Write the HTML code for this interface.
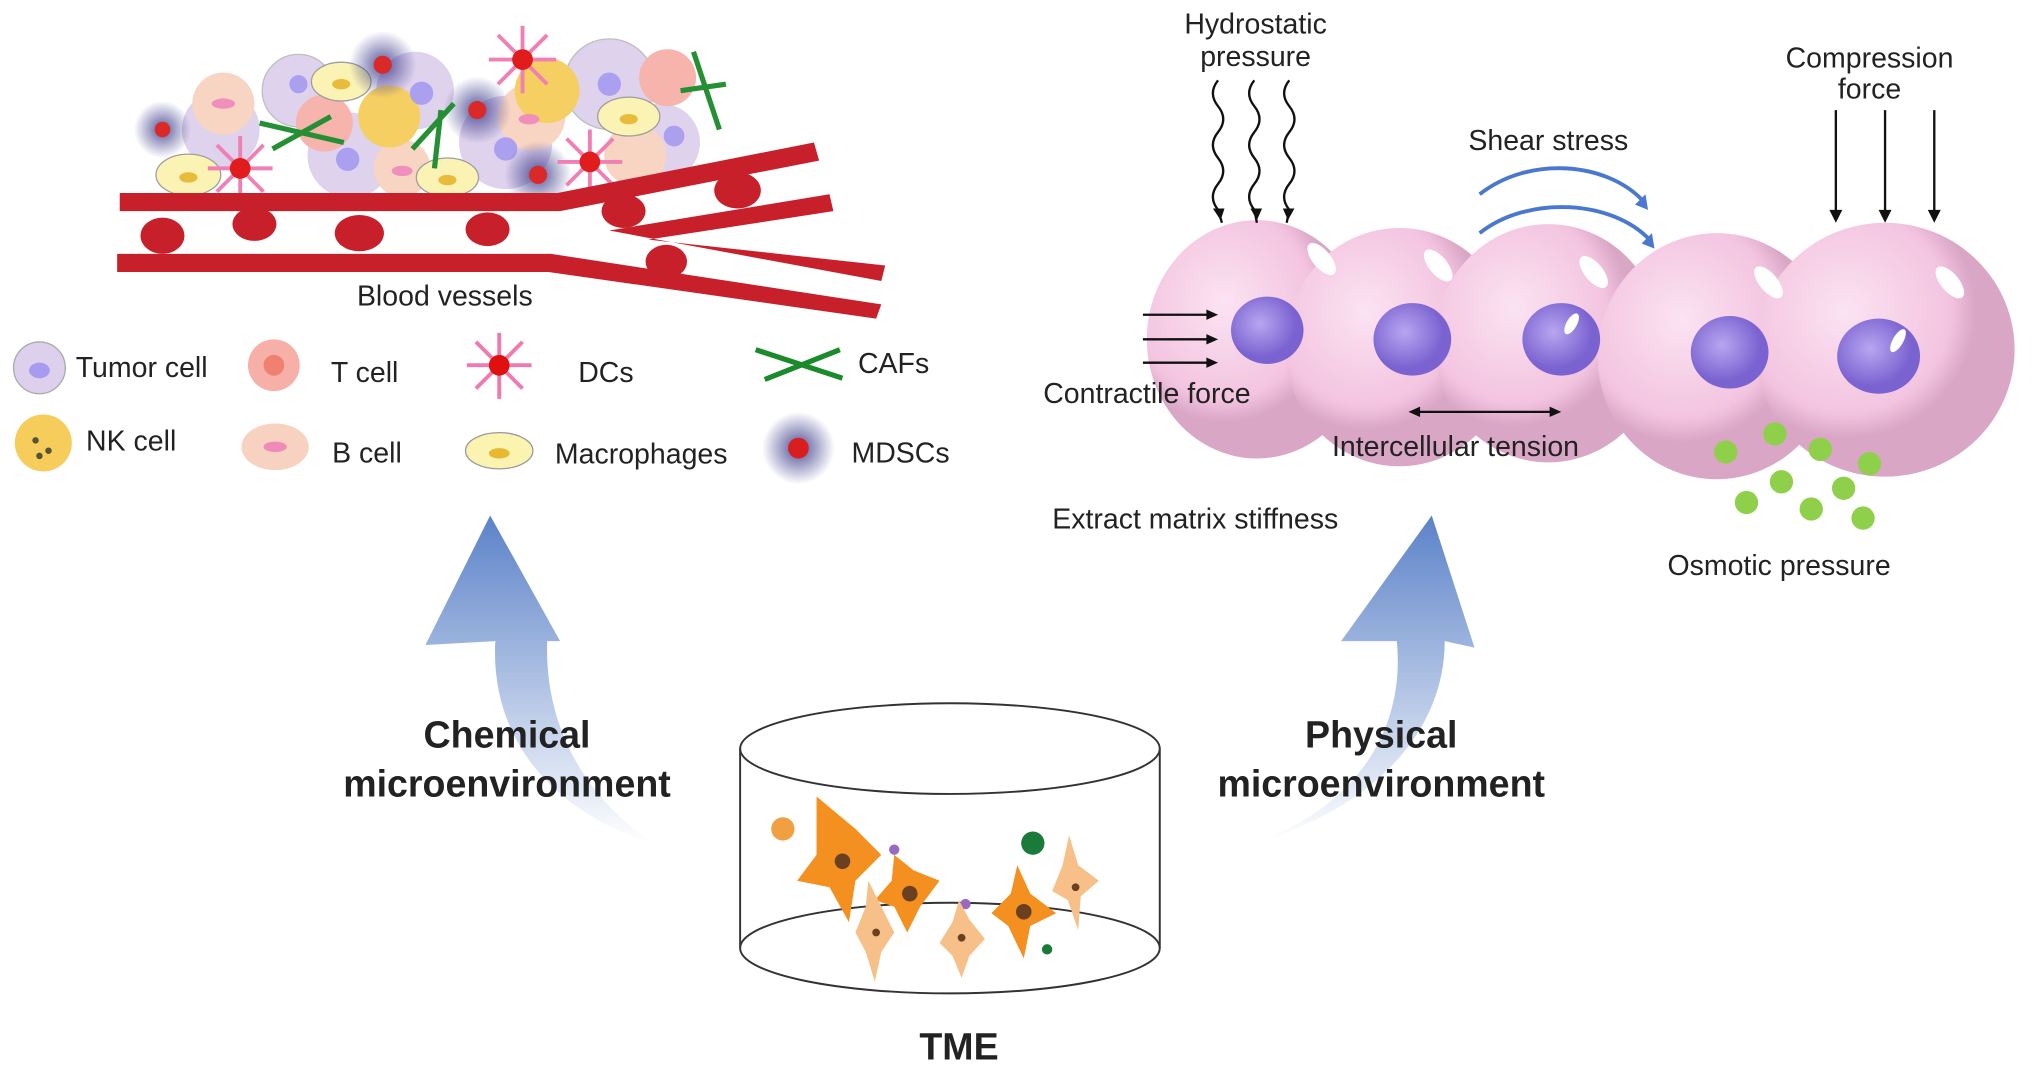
<!DOCTYPE html>
<html><head><meta charset="utf-8"><style>
html,body{margin:0;padding:0;background:#fff;}
svg{display:block}
text{font-family:"Liberation Sans",Arial,sans-serif;fill:#222}
</style></head><body>
<svg width="2032" height="1075" viewBox="0 0 1568 830" xmlns="http://www.w3.org/2000/svg">
<defs>
<radialGradient id="md"><stop offset="0" stop-color="#3a3a8a" stop-opacity=".9"/><stop offset="1" stop-color="#3a3a8a" stop-opacity="0"/></radialGradient>
<radialGradient id="pc" cx=".35" cy=".35"><stop offset="0" stop-color="#fbe3f2"/><stop offset=".8" stop-color="#f3c4e0"/><stop offset="1" stop-color="#d9a6c6"/></radialGradient>
<radialGradient id="nu" cx=".4" cy=".4"><stop offset="0" stop-color="#b8a6f0"/><stop offset="1" stop-color="#7a62d0"/></radialGradient>
<linearGradient id="ga" x1="0" y1="1" x2="0" y2="0"><stop offset="0" stop-color="#fff"/><stop offset="1" stop-color="#5b82c8"/></linearGradient>
<linearGradient id="gb" x1="0" y1="1" x2="0" y2="0"><stop offset="0" stop-color="#fff"/><stop offset="1" stop-color="#5b82c8"/></linearGradient>
</defs>
<path d="M505 652 C420 625 378 565 382 495 L328 498 L378 398 L432 495 L422 495 C420 560 450 615 505 652 Z" fill="url(#ga)"/>
<path d="M965 652 C1045 625 1085 565 1078 495 L1035 495 L1105 398 L1138 500 L1115 495 C1115 565 1060 625 965 652 Z" fill="url(#gb)"/>
<g opacity=".95">
<circle cx="230" cy="70" r="28" fill="#ddd0ec" stroke="#bbb"/>
<circle cx="320" cy="70" r="30" fill="#ddd0ec"/>
<circle cx="470" cy="65" r="35" fill="#ddd0ec" stroke="#bbb"/>
<circle cx="170" cy="100" r="30" fill="#ddd0ec"/>
<circle cx="270" cy="120" r="33" fill="#ddd0ec"/>
<circle cx="390" cy="110" r="36" fill="#ddd0ec"/>
<circle cx="510" cy="110" r="30" fill="#ddd0ec"/>
<circle cx="172" cy="80" r="24" fill="#f8d2c0"/>
<circle cx="310" cy="130" r="22" fill="#f8d2c0"/>
<circle cx="410" cy="90" r="26" fill="#f8d2c0"/>
<circle cx="490" cy="120" r="24" fill="#f8d2c0"/>
<circle cx="250" cy="95" r="22" fill="#f7b0a8"/>
<circle cx="515" cy="60" r="22" fill="#f7b0a8"/>
<circle cx="300" cy="90" r="24" fill="#f6cd5a"/>
<circle cx="422" cy="70" r="25" fill="#f6cd5a"/>
<circle cx="230" cy="65" r="7" fill="#a79af0"/><circle cx="325" cy="72" r="9" fill="#a79af0"/>
<circle cx="268" cy="123" r="9" fill="#a79af0"/><circle cx="390" cy="115" r="9" fill="#a79af0"/>
<circle cx="470" cy="65" r="9" fill="#a79af0"/><circle cx="520" cy="105" r="8" fill="#a79af0"/>
<ellipse cx="172" cy="80" rx="9" ry="4" fill="#f08ab8"/><ellipse cx="310" cy="132" rx="8" ry="4" fill="#f08ab8"/>
<ellipse cx="408" cy="92" rx="8" ry="4" fill="#f08ab8"/>
<ellipse cx="145" cy="135" rx="25" ry="16" fill="#fbf3b0" stroke="#999"/><ellipse cx="145" cy="137" rx="7" ry="4" fill="#e8b830"/>
<ellipse cx="263" cy="63" rx="23" ry="15" fill="#fbf3b0" stroke="#999"/><ellipse cx="263" cy="65" rx="7" ry="4" fill="#e8b830"/>
<ellipse cx="345" cy="137" rx="24" ry="15" fill="#fbf3b0" stroke="#999"/><ellipse cx="345" cy="139" rx="7" ry="4" fill="#e8b830"/>
<ellipse cx="485" cy="90" rx="24" ry="15" fill="#fbf3b0" stroke="#999"/><ellipse cx="485" cy="92" rx="7" ry="4" fill="#e8b830"/>
<circle cx="125" cy="100" r="22" fill="url(#md)"/><circle cx="125" cy="100" r="6" fill="#d81e1e"/>
<circle cx="295" cy="50" r="26" fill="url(#md)"/><circle cx="295" cy="50" r="7" fill="#d81e1e"/>
<circle cx="368" cy="85" r="26" fill="url(#md)"/><circle cx="368" cy="85" r="7" fill="#d81e1e"/>
<circle cx="415" cy="135" r="26" fill="url(#md)"/><circle cx="415" cy="135" r="7" fill="#d81e1e"/>
<g stroke="#f07ab0" stroke-width="3"><path d="M185 105 L185 155 M160 130 L210 130 M167 112 L203 148 M203 112 L167 148"/>
<path d="M403 20 L403 72 M377 46 L429 46 M384 27 L422 65 M422 27 L384 65"/>
<path d="M455 100 L455 150 M430 125 L480 125 M437 107 L473 143 M473 107 L437 143"/></g>
<circle cx="185" cy="130" r="8" fill="#e01010"/><circle cx="403" cy="46" r="8" fill="#e01010"/><circle cx="455" cy="125" r="8" fill="#e01010"/>
<g stroke="#1a8a2a" stroke-width="4" fill="none"><path d="M200 95 L265 110 M210 115 L255 90"/><path d="M318 115 L350 80 M335 130 L340 85"/><path d="M535 40 L555 100 M525 70 L560 65"/></g>
</g>
<g fill="#c8202a">
<path d="M92 149 L430 149 L628 110 L632 124 L432 163 L92 163 Z"/>
<path d="M90 196 L425 196 L680 235 L676 246 L423 210 L90 210 Z"/>
<path d="M470 178 L640 150 L643 163 L500 185 L683 205 L680 217 Z"/>
<ellipse cx="125" cy="182" rx="17" ry="14"/><ellipse cx="196" cy="173" rx="17" ry="13"/>
<ellipse cx="277" cy="180" rx="19" ry="14"/><ellipse cx="376" cy="177" rx="17" ry="13"/>
<ellipse cx="481" cy="163" rx="17" ry="13"/><ellipse cx="569" cy="147" rx="18" ry="14"/><ellipse cx="514" cy="202" rx="16" ry="13"/>
</g>
<text x="343" y="236" font-size="22" text-anchor="middle">Blood vessels</text>
<circle cx="30" cy="284" r="20" fill="#ddd0ec" stroke="#aaa"/><ellipse cx="30" cy="286" rx="8" ry="6" fill="#a79af0"/>
<text x="58" y="291" font-size="22">Tumor cell</text>
<circle cx="211" cy="282" r="20" fill="#f7b0a8"/><circle cx="211" cy="282" r="8" fill="#f08070"/>
<text x="255" y="295" font-size="22">T cell</text>
<g stroke="#f07ab0" stroke-width="3"><path d="M385 257 L385 308 M360 282 L410 282 M367 264 L403 300 M403 264 L367 300"/></g>
<circle cx="385" cy="282" r="8" fill="#e01010"/>
<text x="446" y="295" font-size="22">DCs</text>
<g stroke="#1a8a2a" stroke-width="4" fill="none"><path d="M583 270 L650 292 M590 293 L648 270"/></g>
<text x="662" y="288" font-size="22">CAFs</text>
<circle cx="33" cy="342" r="22" fill="#f6cd5a"/><circle cx="27" cy="340" r="2.5" fill="#553"/><circle cx="37" cy="348" r="2.5" fill="#553"/><circle cx="30" cy="352" r="2.5" fill="#553"/>
<text x="66" y="348" font-size="22">NK cell</text>
<ellipse cx="212" cy="345" rx="26" ry="18" fill="#f8d2c0"/><ellipse cx="212" cy="345" rx="9" ry="4" fill="#f08ab8"/>
<text x="256" y="357" font-size="22">B cell</text>
<ellipse cx="385" cy="348" rx="26" ry="14" fill="#fbf3b0" stroke="#999"/><ellipse cx="385" cy="350" rx="8" ry="4" fill="#e8b830"/>
<text x="428" y="358" font-size="22">Macrophages</text>
<circle cx="616" cy="346" r="28" fill="url(#md)"/><circle cx="616" cy="346" r="8" fill="#d81e1e"/>
<text x="657" y="357" font-size="22">MDSCs</text>
<g>
<ellipse cx="970" cy="262" rx="85" ry="92" fill="url(#pc)"/>
<ellipse cx="1080" cy="268" rx="88" ry="92" fill="url(#pc)"/>
<ellipse cx="1195" cy="265" rx="88" ry="92" fill="url(#pc)"/>
<ellipse cx="1325" cy="275" rx="92" ry="95" fill="url(#pc)"/>
<ellipse cx="1455" cy="270" rx="100" ry="98" fill="url(#pc)"/>
<ellipse cx="978" cy="255" rx="28" ry="26" fill="url(#nu)"/>
<ellipse cx="1090" cy="262" rx="30" ry="28" fill="url(#nu)"/>
<ellipse cx="1205" cy="262" rx="30" ry="28" fill="url(#nu)"/>
<ellipse cx="1335" cy="272" rx="30" ry="28" fill="url(#nu)"/>
<ellipse cx="1450" cy="275" rx="32" ry="29" fill="url(#nu)"/>
<g fill="#fff"><ellipse cx="1020" cy="200" rx="7" ry="15" transform="rotate(-40 1020 200)"/><ellipse cx="1110" cy="205" rx="7" ry="15" transform="rotate(-40 1110 205)"/>
<ellipse cx="1230" cy="210" rx="7" ry="15" transform="rotate(-40 1230 210)"/><ellipse cx="1365" cy="218" rx="7" ry="15" transform="rotate(-40 1365 218)"/>
<ellipse cx="1505" cy="218" rx="7" ry="15" transform="rotate(-40 1505 218)"/>
<ellipse cx="1213" cy="250" rx="4" ry="9" transform="rotate(30 1213 250)"/><ellipse cx="1465" cy="263" rx="4" ry="10" transform="rotate(30 1465 263)"/></g>
</g>
<g fill="#8fd04a"><circle cx="1332" cy="349" r="9"/><circle cx="1370" cy="335" r="9"/><circle cx="1405" cy="347" r="9"/><circle cx="1443" cy="358" r="9"/>
<circle cx="1375" cy="372" r="9"/><circle cx="1423" cy="377" r="9"/><circle cx="1348" cy="388" r="9"/><circle cx="1398" cy="393" r="9"/><circle cx="1438" cy="400" r="9"/></g>
<text x="969" y="26" font-size="22" text-anchor="middle">Hydrostatic</text>
<text x="969" y="51" font-size="22" text-anchor="middle">pressure</text>
<g stroke="#111" stroke-width="1.8" fill="none">
<path d="M940 62 q-8 10 0 20 q8 10 0 20 q-8 10 0 20 q8 10 0 20 q-8 10 0 20 l3 10"/>
<path d="M968 62 q-8 10 0 20 q8 10 0 20 q-8 10 0 20 q8 10 0 20 q-8 10 0 20 l2 10"/>
<path d="M995 62 q-8 10 0 20 q8 10 0 20 q-8 10 0 20 q8 10 0 20 q-8 10 0 20 l-2 10"/>
<path d="M1417 85 L1417 168 M1455 85 L1455 168 M1493 85 L1493 168"/>
<path d="M882 243 L935 243 M882 262 L935 262 M882 280 L935 280"/>
<path d="M1092 318 L1200 318"/>
</g>
<g fill="#111"><path d="M1417 172 l-5 -10 h10z M1455 172 l-5 -10 h10z M1493 172 l-5 -10 h10z M942 170 l-6 -9 h9z M970 170 l-5 -9 h9z M994 170 l-4 -9 h9z
M940 243 l-9 -4 v8z M940 262 l-9 -4 v8z M940 280 l-9 -4 v8z M1087 318 l9 -4 v8z M1205 318 l-9 -4 v8z"/></g>
<text x="1443" y="52" font-size="22" text-anchor="middle">Compression</text>
<text x="1443" y="76" font-size="22" text-anchor="middle">force</text>
<text x="1195" y="116" font-size="22" text-anchor="middle">Shear stress</text>
<g stroke="#4a78d0" stroke-width="3" fill="none"><path d="M1142 150 C1180 120 1240 125 1268 155"/><path d="M1142 180 C1180 150 1245 155 1273 185"/></g>
<g fill="#4a78d0"><path d="M1272 162 l-10 -4 l8 -8z M1277 192 l-10 -4 l8 -8z"/></g>
<text x="805" y="311" font-size="22">Contractile force</text>
<text x="1028" y="352" font-size="22">Intercellular tension</text>
<text x="812" y="408" font-size="22">Extract matrix stiffness</text>
<text x="1287" y="444" font-size="22">Osmotic pressure</text>
<text x="391" y="577" font-size="29" font-weight="bold" text-anchor="middle">Chemical</text>
<text x="391" y="615" font-size="29" font-weight="bold" text-anchor="middle">microenvironment</text>
<text x="1066" y="577" font-size="29" font-weight="bold" text-anchor="middle">Physical</text>
<text x="1066" y="615" font-size="29" font-weight="bold" text-anchor="middle">microenvironment</text>
<text x="740" y="818" font-size="29" font-weight="bold" text-anchor="middle">TME</text>
<g stroke="#333" stroke-width="1.5" fill="none">
<ellipse cx="733" cy="578" rx="162" ry="35" fill="#fff"/>
<ellipse cx="733" cy="732" rx="162" ry="35"/>
<path d="M571 578 L571 732 M895 578 L895 732"/></g>
<circle cx="604" cy="640" r="9" fill="#f0a040"/><circle cx="797" cy="651" r="9" fill="#1a7a3a"/>
<circle cx="690" cy="656" r="4" fill="#9a6ac0"/><circle cx="745" cy="698" r="4" fill="#9a6ac0"/><circle cx="808" cy="733" r="4" fill="#1a7a3a"/>
<g fill="#f39020"><path d="M630 615 L660 640 L680 660 L660 680 L655 712 L640 685 L615 680 L630 660 Z"/>
<path d="M690 660 L705 672 L725 680 L710 700 L700 720 L690 700 L675 695 L688 680 Z"/>
<path d="M785 668 L795 690 L815 705 L795 715 L790 740 L778 715 L765 705 L780 690 Z"/></g>
<g fill="#f6c088"><path d="M670 680 L680 700 L690 720 L680 735 L675 758 L668 735 L660 720 L668 700 Z"/>
<path d="M740 695 L748 710 L760 725 L748 738 L742 755 L735 738 L725 728 L735 712 Z"/>
<path d="M825 645 L832 668 L848 680 L834 692 L832 718 L824 695 L812 688 L820 668 Z"/></g>
<g fill="#6a4020"><circle cx="650" cy="665" r="6"/><circle cx="702" cy="690" r="6"/><circle cx="790" cy="704" r="6"/><circle cx="676" cy="720" r="3"/><circle cx="742" cy="724" r="3"/><circle cx="830" cy="685" r="3"/></g>
</svg>
</body></html>
